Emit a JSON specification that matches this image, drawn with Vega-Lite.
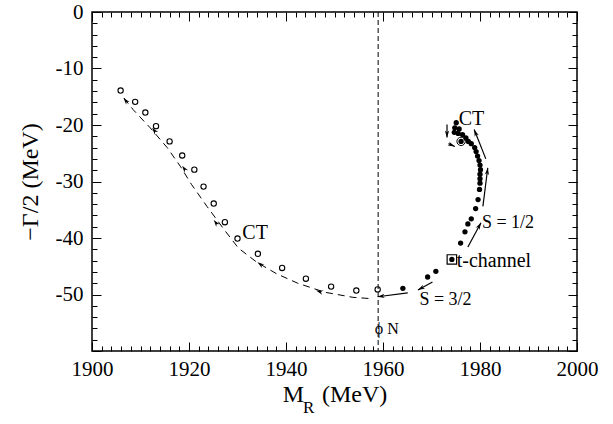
{
  "$schema": "https://vega.github.io/schema/vega-lite/v6.json",
  "width": 485,
  "height": 339,
  "autosize": {"type": "none"},
  "padding": {"left": 92, "top": 12, "right": 36, "bottom": 73},
  "config": {
    "view": {"stroke": "black", "strokeWidth": 1.5},
    "font": "Liberation Serif",
    "axis": {
      "labelFont": "Liberation Serif",
      "titleFont": "Liberation Serif",
      "labelColor": "black",
      "titleColor": "black",
      "domain": false,
      "ticks": false,
      "titleFontWeight": "normal",
      "gridColor": "black",
      "gridOpacity": 1,
      "gridWidth": 1
    }
  },
  "datasets": {
    "vline": [{"x": 1959, "y": 0, "y2": -60}],
    "open": [
      {"x": 1905.9, "y": -13.9}, {"x": 1908.9, "y": -15.9}, {"x": 1911.0, "y": -17.8},
      {"x": 1913.2, "y": -20.2}, {"x": 1916.0, "y": -22.9}, {"x": 1918.6, "y": -25.4},
      {"x": 1921.1, "y": -27.9}, {"x": 1923.0, "y": -30.9}, {"x": 1925.1, "y": -33.9},
      {"x": 1927.4, "y": -37.2}, {"x": 1930.0, "y": -40.1}, {"x": 1934.2, "y": -42.8},
      {"x": 1939.2, "y": -45.3}, {"x": 1944.1, "y": -47.2}, {"x": 1949.3, "y": -48.6},
      {"x": 1954.5, "y": -49.3}, {"x": 1958.9, "y": -49.1}
    ],
    "filled": [
      {"x": 1964.1, "y": -48.9}, {"x": 1969.2, "y": -46.9}, {"x": 1970.9, "y": -45.9},
      {"x": 1974.2, "y": -43.8}, {"x": 1976.0, "y": -40.9}, {"x": 1976.9, "y": -38.9},
      {"x": 1977.5, "y": -37.5}, {"x": 1978.2, "y": -36.6}, {"x": 1979.1, "y": -34.8},
      {"x": 1979.6, "y": -33.2}, {"x": 1979.9, "y": -31.4}, {"x": 1980.0, "y": -30.3},
      {"x": 1980.0, "y": -29.5}, {"x": 1980.0, "y": -28.7}, {"x": 1980.1, "y": -27.9},
      {"x": 1980.0, "y": -27.1}, {"x": 1979.8, "y": -26.3}, {"x": 1979.5, "y": -25.5},
      {"x": 1979.2, "y": -24.7}, {"x": 1978.9, "y": -24.0}, {"x": 1978.2, "y": -23.3},
      {"x": 1977.6, "y": -22.9}, {"x": 1977.1, "y": -22.3}, {"x": 1976.1, "y": -22.9},
      {"x": 1976.4, "y": -21.7}, {"x": 1975.5, "y": -21.5}, {"x": 1974.7, "y": -21.3},
      {"x": 1975.7, "y": -20.7}, {"x": 1974.8, "y": -20.5}, {"x": 1975.1, "y": -19.6}
    ],
    "ring": [{"x": 1976.1, "y": -22.9}],
    "box": [{"x": 1974.2, "y": -43.8}],
    "dash": [
      {"i": 1, "x": 1957.0, "y": -50.7}, {"i": 2, "x": 1953.8, "y": -50.5},
      {"i": 3, "x": 1948.0, "y": -49.6}, {"i": 4, "x": 1942.4, "y": -48.0},
      {"i": 5, "x": 1938.0, "y": -46.3}, {"i": 6, "x": 1934.0, "y": -44.3},
      {"i": 7, "x": 1930.2, "y": -41.8}, {"i": 8, "x": 1927.5, "y": -38.8},
      {"i": 9, "x": 1923.7, "y": -34.4}, {"i": 10, "x": 1920.5, "y": -30.5},
      {"i": 11, "x": 1918.2, "y": -27.3}, {"i": 12, "x": 1915.5, "y": -24.0},
      {"i": 13, "x": 1912.0, "y": -20.5}, {"i": 14, "x": 1908.5, "y": -17.3},
      {"i": 15, "x": 1906.0, "y": -14.6}
    ],
    "shafts": [
      {"x": 1965.1, "y": -49.7, "x2": 1958.9, "y2": -50.4},
      {"x": 1970.2, "y": -47.8, "x2": 1967.2, "y2": -49.2},
      {"x": 1977.5, "y": -41.6, "x2": 1980.2, "y2": -37.3},
      {"x": 1980.6, "y": -34.4, "x2": 1981.6, "y2": -27.6},
      {"x": 1981.2, "y": -26.0, "x2": 1978.8, "y2": -20.8},
      {"x": 1973.2, "y": -19.9, "x2": 1973.2, "y2": -22.2},
      {"x": 1973.5, "y": -23.3, "x2": 1974.8, "y2": -23.8}
    ],
    "heads": [
      {"x": 1958.9, "y": -50.4, "a": 262.7},
      {"x": 1967.2, "y": -49.2, "a": 241.4},
      {"x": 1980.2, "y": -37.3, "a": 28.9},
      {"x": 1981.6, "y": -27.6, "a": 7.1},
      {"x": 1978.8, "y": -20.8, "a": 338.5},
      {"x": 1973.2, "y": -22.2, "a": 180},
      {"x": 1974.8, "y": -23.8, "a": 114},
      {"x": 1946.2, "y": -49.3, "a": 287},
      {"x": 1934.1, "y": -44.3, "a": 304},
      {"x": 1925.1, "y": -36.8, "a": 323},
      {"x": 1918.6, "y": -27.2, "a": 325},
      {"x": 1912.4, "y": -20.5, "a": 322},
      {"x": 1906.5, "y": -15.2, "a": 321}
    ],
    "notes": [
      {"t": "CT", "x": 1931.0, "y": -39.15},
      {"t": "CT", "x": 1975.6, "y": -18.9},
      {"t": "t-channel", "x": 1975.2, "y": -44.1}
    ],
    "spins": [
      {"t": "S = 1/2", "x": 1980.4, "y": -37.3},
      {"t": "S = 3/2", "x": 1967.5, "y": -51.0}
    ],
    "phin": [{"t": "ϕ N", "x": 1958.3, "y": -56.1}],
    "sub": [{"t": "R", "x": 1944.7, "y": -71.0}]
  },
  "encoding": {
    "x": {"field": "x", "type": "quantitative", "scale": {"domain": [1900, 2000], "nice": false, "zero": false},
      "axis": {
        "orient": "bottom",
        "values": [1900, 1902, 1904, 1906, 1908, 1910, 1912, 1914, 1916, 1918, 1920, 1922, 1924, 1926, 1928, 1930, 1932, 1934, 1936, 1938, 1940, 1942, 1944, 1946, 1948, 1950, 1952, 1954, 1956, 1958, 1960, 1962, 1964, 1966, 1968, 1970, 1972, 1974, 1976, 1978, 1980, 1982, 1984, 1986, 1988, 1990, 1992, 1994, 1996, 1998, 2000],
        "grid": true,
        "ticks": false,
        "gridDash": {"condition": {"test": "datum.value % 20 === 0", "value": [9, 321, 9]}, "value": [5, 329, 5]},
        "labelExpr": "datum.value % 20 === 0 ? datum.value + '' : ''",
        "labelFontSize": 21, "labelPadding": 7, "labelFlush": false, "labelOverlap": false,
        "title": "M\u00a0\u00a0\u00a0(MeV)", "titleFontSize": 24, "titlePadding": 3, "titleColor": "black"
      }},
    "y": {"field": "y", "type": "quantitative", "scale": {"domain": [-60, 0], "nice": false, "zero": false},
      "axis": {
        "orient": "left",
        "values": [0, -2, -4, -6, -8, -10, -12, -14, -16, -18, -20, -22, -24, -26, -28, -30, -32, -34, -36, -38, -40, -42, -44, -46, -48, -50, -52, -54, -56, -58, -60],
        "grid": true,
        "ticks": false,
        "gridDash": {"condition": {"test": "datum.value % 10 === 0", "value": [9, 467, 9]}, "value": [5, 475, 5]},
        "labelExpr": "datum.value % 10 === 0 && datum.value > -60 ? datum.value + '' : ''",
        "labelFontSize": 21, "labelPadding": 9, "labelFlush": false, "labelOverlap": false,
        "title": "−Γ/2 (MeV)", "titleFontSize": 24, "titlePadding": 13, "titleColor": "black"
      }}
  },
  "layer": [
    {
      "data": {"name": "dash"},
      "mark": {"type": "line", "color": "black", "strokeWidth": 1, "strokeDash": [7, 5]},
      "encoding": {
        "order": {"field": "i", "type": "quantitative"}
      }
    },
    {
      "data": {"name": "vline"},
      "mark": {"type": "rule", "color": "black", "strokeWidth": 1, "strokeDash": [5, 3]},
      "encoding": {
        "y2": {"field": "y2"}
      }
    },
    {
      "data": {"name": "open"},
      "mark": {"type": "point", "shape": "circle", "filled": false, "stroke": "black", "strokeWidth": 1.1, "size": 28, "opacity": 1},
      "encoding": {}
    },
    {
      "data": {"name": "filled"},
      "mark": {"type": "point", "shape": "circle", "filled": true, "color": "black", "size": 28, "opacity": 1},
      "encoding": {}
    },
    {
      "data": {"name": "shafts"},
      "mark": {"type": "rule", "color": "black", "strokeWidth": 1.2},
      "encoding": {
        "x2": {"field": "x2"},
        "y2": {"field": "y2"}
      }
    },
    {
      "data": {"name": "heads"},
      "mark": {"type": "point", "shape": "M0,0L-0.75,2.4L0,1.7L0.75,2.4Z", "filled": true, "color": "black", "size": 34, "opacity": 1},
      "encoding": {
        "angle": {"field": "a", "type": "quantitative", "scale": null}
      }
    },
    {
      "data": {"name": "ring"},
      "mark": {"type": "point", "shape": "circle", "filled": false, "stroke": "black", "strokeWidth": 1, "size": 70, "opacity": 1},
      "encoding": {}
    },
    {
      "data": {"name": "box"},
      "mark": {"type": "point", "shape": "square", "filled": false, "stroke": "black", "strokeWidth": 1.2, "size": 90, "opacity": 1},
      "encoding": {}
    },
    {
      "data": {"name": "notes"},
      "mark": {"type": "text", "align": "left", "baseline": "middle", "font": "Liberation Serif", "fontSize": 20, "color": "black"},
      "encoding": {
        "text": {"field": "t"}
      }
    },
    {
      "data": {"name": "spins"},
      "mark": {"type": "text", "align": "left", "baseline": "middle", "font": "Liberation Serif", "fontSize": 18, "color": "black"},
      "encoding": {
        "text": {"field": "t"}
      }
    },
    {
      "data": {"name": "phin"},
      "mark": {"type": "text", "align": "left", "baseline": "middle", "font": "Liberation Serif", "fontSize": 16, "color": "black"},
      "encoding": {
        "text": {"field": "t"}
      }
    },
    {
      "data": {"name": "sub"},
      "mark": {"type": "text", "align": "center", "baseline": "alphabetic", "font": "Liberation Serif", "fontSize": 17, "color": "black"},
      "encoding": {
        "text": {"field": "t"}
      }
    }
  ]
}
